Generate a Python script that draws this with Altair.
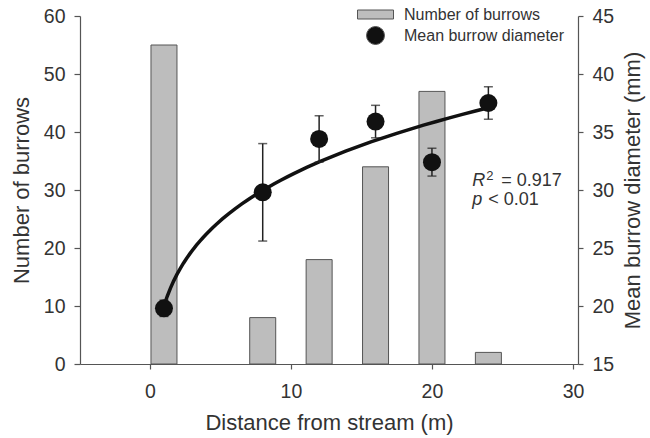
import altair as alt
import pandas as pd

FONT = "Liberation Sans"

# ---- data ----
distance = [1, 8, 12, 16, 20, 24]              # m
burrows = [55, 8, 18, 34, 47, 2]               # count (left axis)
diam_mean = [19.8, 29.8, 34.4, 35.9, 32.4, 37.5]  # mm (right axis)
diam_err = [0.7, 4.2, 2.0, 1.4, 1.2, 1.4]      # mm
series = ["Number of burrows", "Mean burrow diameter"]
x_ticks = [0, 10, 20, 30]
left_ticks = [0, 10, 20, 30, 40, 50, 60]
right_ticks = [15, 20, 25, 30, 35, 40, 45]
stat_r2 = "= 0.917"
stat_p = "< 0.01"

df = pd.DataFrame({
    "d": distance,
    "n": burrows,
    "diam": diam_mean,
    "err": diam_err,
    "s_bar": [series[0]] * len(distance),
    "s_pt": [series[1]] * len(distance),
})

base = alt.Chart(df)

x_scale = alt.Scale(domain=[-4.6, 30], nice=False, zero=False)
x_enc = alt.X(
    "d:Q",
    scale=x_scale,
    axis=alt.Axis(values=x_ticks, title="Distance from stream (m)",
                  labelPadding=13, titlePadding=12, tickSize=5),
)

legend = alt.Legend(
    orient="none", legendX=286, legendY=-11, padding=0,
    symbolSize=324, labelOffset=19, rowPadding=1, labelLimit=400,
    labelFontSize=16, labelFont=FONT, labelColor="#333",
    symbolStrokeColor="#555", symbolStrokeWidth=1,
)
color_scale = alt.Scale(domain=series, range=["#bdbdbd", "#111111"])
shape_scale = alt.Scale(domain=series, range=["M-2,-0.5H2V0.5H-2Z", "circle"])

left_axis = alt.Axis(orient="left", values=left_ticks, title="Number of burrows",
                     labelPadding=9, titlePadding=10, tickSize=6)
right_axis = alt.Axis(orient="right", values=right_ticks, title="Mean burrow diameter (mm)",
                      labelPadding=9, titlePadding=9, tickSize=5,
                      titleAngle=270, titleBaseline="top")
right_scale = alt.Scale(domain=[15, 45], nice=False, zero=False)


def yr(field):
    return alt.Y(field, scale=right_scale, axis=right_axis)


bars = base.mark_bar(size=26, stroke="#555", strokeWidth=1).encode(
    x=x_enc,
    y=alt.Y("n:Q", scale=alt.Scale(domain=[0, 60], nice=False), axis=left_axis),
    color=alt.Color("s_bar:N", scale=color_scale, legend=legend, title=None),
)

fit = base.transform_regression("d", "diam", method="pow", extent=[1, 24]).mark_line(
    color="#111", strokeWidth=3.5
).encode(x=x_enc, y=yr("diam:Q"))

errs = base.transform_calculate(lo="datum.diam - datum.err", hi="datum.diam + datum.err")
err_rule = errs.mark_rule(color="#222", strokeWidth=1.5).encode(
    x=x_enc, y=yr("lo:Q"), y2="hi:Q")
cap_lo = errs.mark_tick(orient="horizontal", size=9, thickness=1.5, color="#222").encode(
    x=x_enc, y=yr("lo:Q"))
cap_hi = errs.mark_tick(orient="horizontal", size=9, thickness=1.5, color="#222").encode(
    x=x_enc, y=yr("hi:Q"))

points = base.mark_point(filled=True, size=324, opacity=1).encode(
    x=x_enc,
    y=yr("diam:Q"),
    color=alt.Color("s_pt:N", scale=color_scale, legend=legend, title=None),
    shape=alt.Shape("s_pt:N", scale=shape_scale, legend=legend, title=None),
)

# annotation (R^2, p)
ann = alt.Chart(pd.DataFrame({"x": [22.85], "y1": [30.35], "y2": [28.7]}))
txt = dict(align="left", baseline="alphabetic", font=FONT, color="#333")
ax = alt.X("x:Q", scale=x_scale)
r_lab = ann.mark_text(text="R", fontStyle="italic", fontSize=18, **txt).encode(
    x=ax, y=yr("y1:Q"))
r_sup = ann.mark_text(text="2", fontSize=13, dx=14, dy=-6, **txt).encode(
    x=ax, y=yr("y1:Q"))
r_val = ann.mark_text(text=stat_r2, fontSize=18, dx=29, **txt).encode(
    x=ax, y=yr("y1:Q"))
p_lab = ann.mark_text(text="p", fontStyle="italic", fontSize=18, **txt).encode(
    x=ax, y=yr("y2:Q"))
p_val = ann.mark_text(text=stat_p, fontSize=18, dx=16, **txt).encode(
    x=ax, y=yr("y2:Q"))

right_group = alt.layer(fit, err_rule, cap_lo, cap_hi, points,
                        r_lab, r_sup, r_val, p_lab, p_val)

chart = (
    alt.layer(bars, right_group)
    .resolve_scale(y="independent")
    .properties(
        width=498, height=348,
        padding={"left": 80, "top": 16, "right": 72, "bottom": 74},
        autosize=alt.AutoSizeParams(type="none"),
        background="white",
    )
    .configure_view(stroke=None)
    .configure_axis(
        grid=False,
        domainColor="#555", tickColor="#555", domainWidth=1.2, tickWidth=1.2,
        labelColor="#333", titleColor="#333",
        labelFont=FONT, titleFont=FONT,
        labelFontSize=19.5, titleFontSize=22, titleFontWeight="normal",
    )
)

chart.save("out.html", embed_options={"renderer": "svg", "actions": False})
